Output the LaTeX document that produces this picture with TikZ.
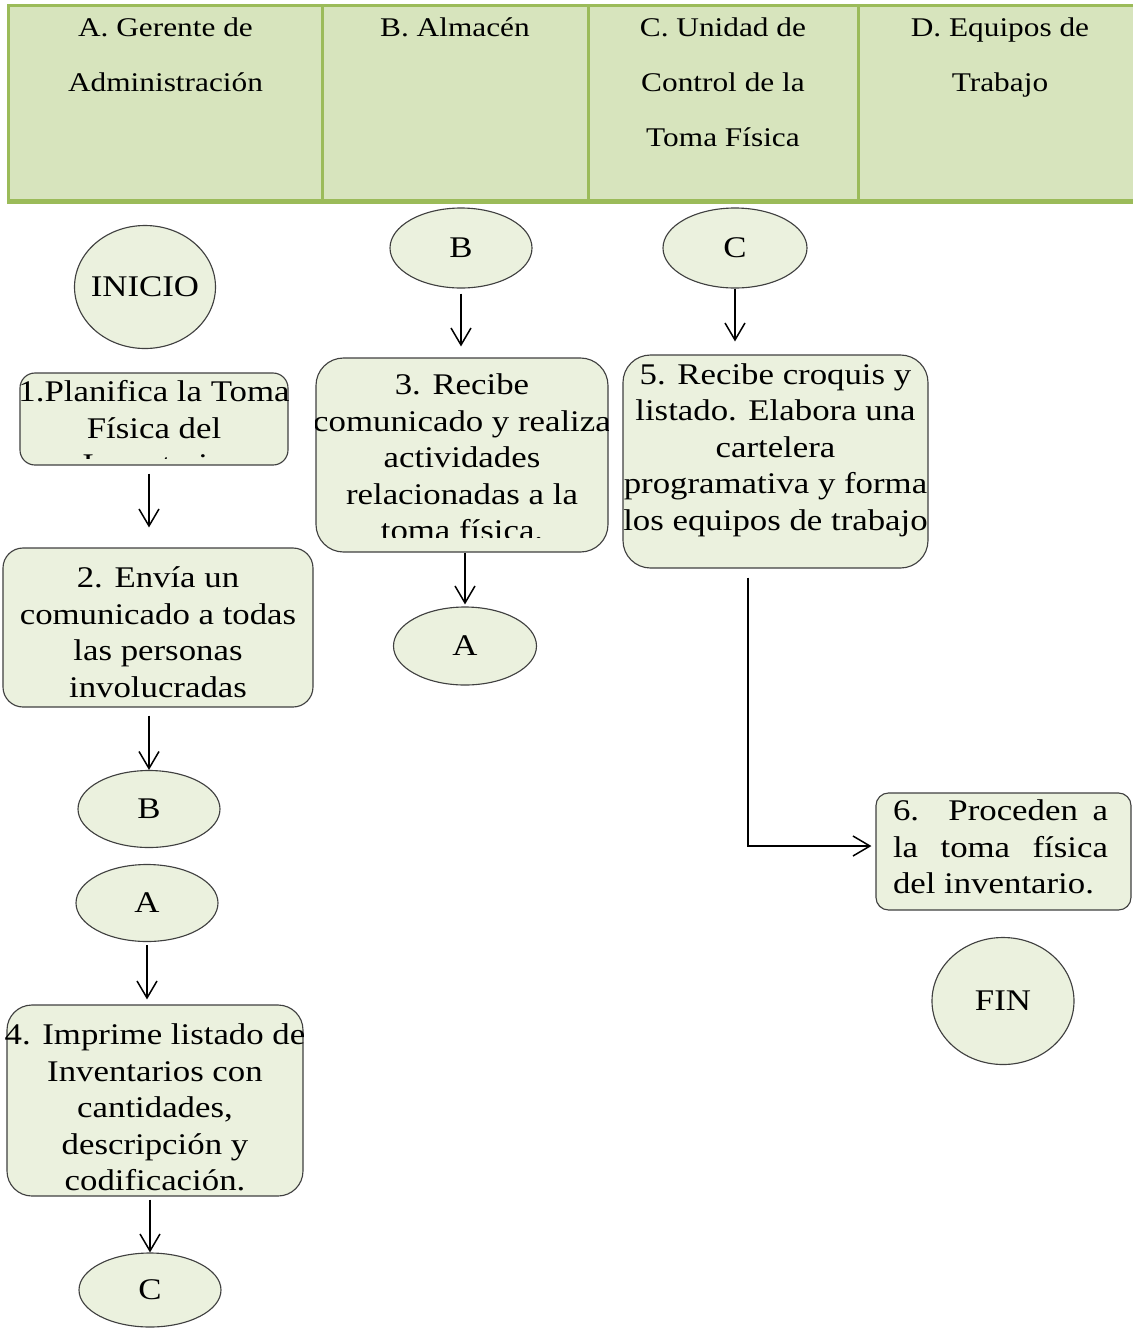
\documentclass[tikz,border=0pt]{standalone}
\usepackage{fontspec}
\setmainfont{Liberation Serif}[FakeStretch=1.16]
\usetikzlibrary{arrows.meta,shapes.geometric}
\definecolor{hdrfill}{HTML}{D7E4BD}
\definecolor{hdrline}{HTML}{9BBB59}
\definecolor{boxfill}{HTML}{EBF1DE}
\definecolor{boxline}{HTML}{404040}
\begin{document}
\begin{tikzpicture}[x=0.4pt,y=-0.4pt,
  hcell/.style={rectangle,draw=hdrline,fill=hdrfill,line width=1.2pt,inner sep=0pt,minimum height=78pt},
  htext/.style={anchor=north,inner sep=0pt,align=center,font=\fontsize{10.8}{22}\selectfont},
  box/.style={rectangle,draw=boxline,fill=boxfill,line width=0.45pt,inner sep=0pt},
  btext/.style={inner sep=0pt,align=center,font=\fontsize{12}{14.6}\selectfont},
  term/.style={ellipse,draw=boxline,fill=boxfill,line width=0.45pt,inner sep=0pt,font=\fontsize{12}{14.6}\selectfont},
  arr/.style={draw=black,line width=0.6pt,-{Straight Barb[length=6.8pt,width=8pt,line width=0.6pt]}}]

\useasboundingbox (0,0) rectangle (1133,1328);

% header
\node[hcell,minimum width=125.2pt] (hA) at (165.5,102.5) {};
\node[hcell,minimum width=106.4pt] (hB) at (455,102.5) {};
\node[hcell,minimum width=108pt]   (hC) at (723,102.5) {};
\node[hcell,minimum width=113.6pt] (hD) at (1000,102.5) {};
\draw[hdrline,line width=1.6pt] (hA.south west) -- (hD.south east);
\node[htext] (hAt) at ([yshift=-5.6pt]hA.north) {A. Gerente de\\Administración};
\node[htext] (hBt) at ([yshift=-5.6pt]hB.north) {B. Almacén};
\node[htext] (hCt) at ([yshift=-5.6pt]hC.north) {C. Unidad de\\Control de la\\Toma Física};
\node[htext] (hDt) at ([yshift=-5.6pt]hD.north) {D. Equipos de\\Trabajo};

% terminals / connectors
\node[term,minimum width=56.4pt,minimum height=49.2pt] (inicio) at (145,287) {\makebox[0pt]{INICIO}};
\node[term,minimum width=56.8pt,minimum height=32pt]   (cB1) at (461,248) {\makebox[0pt]{B}};
\node[term,minimum width=57.6pt,minimum height=32pt]   (cC1) at (735,248) {\makebox[0pt]{C}};
\node[term,minimum width=57.2pt,minimum height=31.2pt] (cA2) at (465,646) {\makebox[0pt]{A}};
\node[term,minimum width=56.8pt,minimum height=30.8pt] (cB2) at (149,809) {\makebox[0pt]{B}};
\node[term,minimum width=56.8pt,minimum height=30.8pt] (cA1) at (147,903) {\makebox[0pt]{A}};
\node[term,minimum width=56.8pt,minimum height=29.6pt] (cC2) at (150,1290) {\makebox[0pt]{C}};
\node[term,minimum width=56.8pt,minimum height=50.8pt] (fin) at (1003,1001) {\makebox[0pt]{FIN}};

% process boxes
\node[box,rounded corners=6pt,minimum width=107.2pt,minimum height=36.8pt] (b1) at (154,419) {};
\begin{scope}
  \clip (b1.north west) rectangle ([yshift=2.8pt]b1.south east);
  \node[btext] (t1) at (154,428) {1.Planifica la Toma\\Física del\\Inventario};
\end{scope}

\node[box,rounded corners=8pt,minimum width=124pt,minimum height=63.6pt] (b2) at (158,627.5) {};
\node[btext] (t2) at (158,632) {2. Envía un\\comunicado a todas\\las personas\\involucradas};

\node[box,rounded corners=11pt,minimum width=116.8pt,minimum height=77.6pt] (b3) at (462,455) {};
\begin{scope}
  \clip (b3.north west) rectangle ([yshift=6pt]b3.south east);
  \node[btext] (t3) at (462,457.5) {3. Recibe\\comunicado y realiza\\actividades\\relacionadas a la\\toma física.};
\end{scope}

\node[box,rounded corners=10pt,minimum width=118.4pt,minimum height=76.4pt] (b4) at (155,1100.5) {};
\node[btext] (t4) at (155,1107.5) {4. Imprime listado de\\Inventarios con\\cantidades,\\descripción y\\codificación.};

\node[box,rounded corners=11pt,minimum width=122pt,minimum height=85.2pt] (b5) at (775.5,461.5) {};
\node[btext] (t5) at (775.5,450) {5. Recibe croquis y\\listado. Elabora una\\cartelera\\programativa y forma\\los equipos de trabajo};

\node[box,rounded corners=5pt,minimum width=102pt,minimum height=46.8pt] (b6) at (1003.5,851.5) {};
\node[btext,align=left] (t6) at (1000.5,847) {\makebox[86pt][s]{6. Proceden a}\\\makebox[86pt][s]{la toma física}\\del inventario.};

% arrows
\draw[arr,shorten <=3.2pt,shorten >=8pt] (b1.south -| cB2) -- (b2.north -| cB2);
\draw[arr,shorten <=3.2pt] (b2.south -| cB2) -- (cB2.north);
\draw[arr,shorten <=1.2pt,shorten >=2pt] (cA1.south) -- (cA1.south |- b4.north);
\draw[arr,shorten <=1.2pt] (b4.south -| cC2) -- (cC2.north);
\draw[arr,shorten <=2pt,shorten >=4.4pt] (cB1.south) -- (cB1.south |- b3.north);
\draw[arr,shorten >=5.2pt] (cC1.south) -- (cC1.south |- b5.north);
\draw[arr,shorten >=0.8pt] (b3.south -| cA2) -- (cA2.north);
\coordinate (bend) at (748,846);
\draw[arr,shorten <=3.6pt,shorten >=1.6pt] (bend |- b5.south) -- (bend) -- (bend -| b6.west);
\end{tikzpicture}
\end{document}
